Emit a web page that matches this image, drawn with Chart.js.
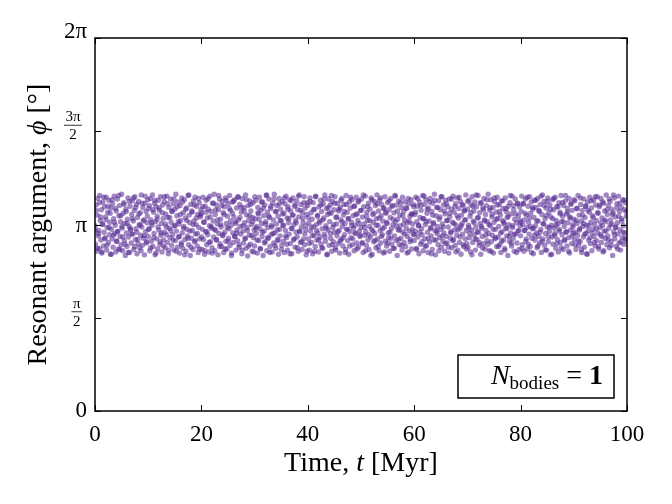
<!DOCTYPE html>
<html>
<head>
<meta charset="utf-8">
<script src="https://cdn.jsdelivr.net/npm/chart.js@4"></script>
<style>html,body{margin:0;padding:0;background:#fff}</style>
</head>
<body>
<canvas id="graphe" width="672" height="504" style="width:672px;height:504px"></canvas>
<script>
"use strict";

// tick positions and labels
const xTicks = [0, 20, 40, 60, 80, 100];
const yTickVals = [0, Math.PI / 2, Math.PI, 3 * Math.PI / 2, 2 * Math.PI];
const yTickLabels = [["0"], ["π", "2"], ["π"], ["3π", "2"], ["2π"]];
const nBodies = 1;

// resonant argument phi (rad) vs time (Myr), one array per 10 Myr
const seg0 = [[0.0,3.12],[0.1,2.81],[0.2,3.47],[0.3,2.69],[0.4,3.30],[0.5,3.58],[0.6,2.95],[0.7,3.04],[0.8,2.74],[0.9,3.63],
[1.0,3.21],[1.1,2.88],[1.2,3.39],[1.3,2.66],[1.4,3.15],[1.5,3.52],[1.6,2.78],[1.7,3.01],[1.8,3.44],[1.9,2.92],
[2.0,3.27],[2.1,3.60],[2.2,2.71],[2.3,3.09],[2.4,3.35],[2.5,2.84],[2.6,3.55],[2.7,2.97],[2.8,3.18],[2.9,2.64],
[3.0,3.42],[3.1,3.06],[3.2,2.90],[3.3,3.49],[3.4,2.76],[3.5,3.24],[3.6,3.62],[3.7,2.99],[3.8,3.13],[3.9,2.68],
[4.0,3.37],[4.1,2.86],[4.2,3.57],[4.3,3.03],[4.4,2.73],[4.5,3.29],[4.6,3.46],[4.7,2.94],[4.8,3.19],[4.9,2.80],
[5.0,3.65],[5.1,3.08],[5.2,2.70],[5.3,3.33],[5.4,3.51],[5.5,2.87],[5.6,3.16],[5.7,2.62],[5.8,3.40],[5.9,3.00],
[6.0,2.77],[6.1,3.23],[6.2,3.59],[6.3,2.93],[6.4,3.11],[6.5,2.67],[6.6,3.45],[6.7,3.05],[6.8,2.83],[6.9,3.31],
[7.0,3.54],[7.1,2.98],[7.2,3.20],[7.3,2.72],[7.4,3.38],[7.5,3.61],[7.6,2.89],[7.7,3.07],[7.8,3.48],[7.9,2.65],
[8.0,3.26],[8.1,2.82],[8.2,3.53],[8.3,3.14],[8.4,2.75],[8.5,3.34],[8.6,2.96],[8.7,3.64],[8.8,3.10],[8.9,2.79],
[9.0,3.43],[9.1,2.91],[9.2,3.22],[9.3,2.63],[9.4,3.50],[9.5,3.02],[9.6,3.36],[9.7,2.85],[9.8,3.17],[9.9,3.56]];
const seg1 = [[10.0,2.94],[10.1,3.41],[10.2,3.07],[10.3,2.70],[10.4,3.58],[10.5,3.22],[10.6,2.86],[10.7,3.13],[10.8,3.64],[10.9,2.77],
[11.0,3.35],[11.1,2.99],[11.2,3.50],[11.3,2.63],[11.4,3.19],[11.5,3.44],[11.6,2.90],[11.7,3.28],[11.8,2.73],[11.9,3.55],
[12.0,3.05],[12.1,3.38],[12.2,2.81],[12.3,3.61],[12.4,2.96],[12.5,3.16],[12.6,2.68],[12.7,3.47],[12.8,3.24],[12.9,2.88],
[13.0,3.53],[13.1,3.01],[13.2,2.75],[13.3,3.32],[13.4,3.10],[13.5,3.62],[13.6,2.84],[13.7,3.26],[13.8,2.65],[13.9,3.43],
[14.0,3.08],[14.1,2.92],[14.2,3.57],[14.3,3.18],[14.4,2.79],[14.5,3.36],[14.6,2.97],[14.7,3.49],[14.8,2.71],[14.9,3.12],
[15.0,3.40],[15.1,2.87],[15.2,3.65],[15.3,3.03],[15.4,3.29],[15.5,2.76],[15.6,3.52],[15.7,2.93],[15.8,3.15],[15.9,2.66],
[16.0,3.46],[16.1,3.21],[16.2,2.83],[16.3,3.59],[16.4,3.00],[16.5,2.74],[16.6,3.34],[16.7,3.11],[16.8,3.56],[16.9,2.89],
[17.0,3.25],[17.1,2.69],[17.2,3.42],[17.3,3.06],[17.4,2.95],[17.5,3.63],[17.6,2.80],[17.7,3.30],[17.8,3.17],[17.9,2.62],
[18.0,3.48],[18.1,2.91],[18.2,3.37],[18.3,3.04],[18.4,2.72],[18.5,3.54],[18.6,3.20],[18.7,2.85],[18.8,3.60],[18.9,2.98],
[19.0,3.14],[19.1,3.45],[19.2,2.78],[19.3,3.31],[19.4,2.67],[19.5,3.09],[19.6,3.51],[19.7,2.90],[19.8,3.27],[19.9,3.39]];
const seg2 = [[20.0,3.33],[20.1,2.72],[20.2,3.06],[20.3,3.60],[20.4,2.89],[20.5,3.18],[20.6,2.64],[20.7,3.45],[20.8,3.02],[20.9,3.55],
[21.0,2.80],[21.1,3.25],[21.2,2.97],[21.3,3.40],[21.4,2.68],[21.5,3.12],[21.6,3.62],[21.7,2.85],[21.8,3.36],[21.9,3.08],
[22.0,2.75],[22.1,3.50],[22.2,3.20],[22.3,2.93],[22.4,3.65],[22.5,2.70],[22.6,3.31],[22.7,3.04],[22.8,2.88],[22.9,3.47],
[23.0,3.15],[23.1,2.63],[23.2,3.39],[23.3,2.99],[23.4,3.57],[23.5,2.82],[23.6,3.23],[23.7,3.10],[23.8,2.77],[23.9,3.53],
[24.0,2.95],[24.1,3.34],[24.2,2.67],[24.3,3.44],[24.4,3.01],[24.5,3.59],[24.6,2.86],[24.7,3.16],[24.8,2.73],[24.9,3.28],
[25.0,3.49],[25.1,2.91],[25.2,3.07],[25.3,3.63],[25.4,2.79],[25.5,3.38],[25.6,3.13],[25.7,2.66],[25.8,3.52],[25.9,3.00],
[26.0,2.84],[26.1,3.27],[26.2,3.56],[26.3,2.94],[26.4,3.19],[26.5,2.71],[26.6,3.42],[26.7,3.05],[26.8,2.87],[26.9,3.61],
[27.0,3.22],[27.1,2.76],[27.2,3.48],[27.3,3.11],[27.4,2.98],[27.5,3.35],[27.6,2.65],[27.7,3.58],[27.8,3.03],[27.9,2.83],
[28.0,3.43],[28.1,3.17],[28.2,2.90],[28.3,3.64],[28.4,2.74],[28.5,3.30],[28.6,3.09],[28.7,2.61],[28.8,3.46],[28.9,3.21],
[29.0,2.96],[29.1,3.54],[29.2,2.81],[29.3,3.37],[29.4,3.14],[29.5,2.69],[29.6,3.26],[29.7,3.51],[29.8,2.92],[29.9,3.05]];
const seg3 = [[30.0,2.78],[30.1,3.24],[30.2,3.55],[30.3,2.99],[30.4,3.11],[30.5,2.66],[30.6,3.43],[30.7,3.32],[30.8,2.87],[30.9,3.60],
[31.0,3.07],[31.1,2.73],[31.2,3.38],[31.3,3.16],[31.4,2.94],[31.5,3.52],[31.6,2.62],[31.7,3.29],[31.8,3.03],[31.9,3.47],
[32.0,2.85],[32.1,3.19],[32.2,3.63],[32.3,2.70],[32.4,3.35],[32.5,3.09],[32.6,2.91],[32.7,3.57],[32.8,3.26],[32.9,2.77],
[33.0,3.41],[33.1,2.97],[33.2,3.13],[33.3,2.68],[33.4,3.50],[33.5,3.22],[33.6,2.83],[33.7,3.65],[33.8,3.00],[33.9,3.36],
[34.0,2.74],[34.1,3.15],[34.2,3.46],[34.3,2.89],[34.4,3.28],[34.5,2.64],[34.6,3.58],[34.7,3.06],[34.8,2.95],[34.9,3.40],
[35.0,3.20],[35.1,2.79],[35.2,3.53],[35.3,3.12],[35.4,2.86],[35.5,3.33],[35.6,2.67],[35.7,3.49],[35.8,3.04],[35.9,3.62],
[36.0,2.92],[36.1,3.25],[36.2,2.71],[36.3,3.44],[36.4,3.17],[36.5,2.98],[36.6,3.56],[36.7,2.82],[36.8,3.37],[36.9,3.08],
[37.0,2.65],[37.1,3.30],[37.2,3.59],[37.3,2.88],[37.4,3.14],[37.5,3.45],[37.6,2.76],[37.7,3.21],[37.8,3.01],[37.9,3.54],
[38.0,2.93],[38.1,3.39],[38.2,2.69],[38.3,3.27],[38.4,3.64],[38.5,3.02],[38.6,2.84],[38.7,3.48],[38.8,3.10],[38.9,2.72],
[39.0,3.34],[39.1,3.18],[39.2,2.90],[39.3,3.61],[39.4,2.80],[39.5,3.42],[39.6,3.05],[39.7,2.63],[39.8,3.31],[39.9,3.51]];
const seg4 = [[40.0,3.46],[40.1,2.90],[40.2,3.17],[40.3,2.71],[40.4,3.59],[40.5,3.03],[40.6,3.34],[40.7,2.84],[40.8,3.23],[40.9,2.65],
[41.0,3.51],[41.1,3.10],[41.2,2.96],[41.3,3.40],[41.4,2.77],[41.5,3.62],[41.6,3.14],[41.7,2.88],[41.8,3.28],[41.9,3.00],
[42.0,2.68],[42.1,3.44],[42.2,3.20],[42.3,2.93],[42.4,3.55],[42.5,2.81],[42.6,3.36],[42.7,3.07],[42.8,2.74],[42.9,3.49],
[43.0,3.25],[43.1,2.98],[43.2,3.64],[43.3,2.86],[43.4,3.12],[43.5,3.41],[43.6,2.63],[43.7,3.31],[43.8,3.05],[43.9,3.57],
[44.0,2.79],[44.1,3.19],[44.2,3.47],[44.3,2.91],[44.4,3.33],[44.5,2.69],[44.6,3.53],[44.7,3.09],[44.8,2.85],[44.9,3.39],
[45.0,3.01],[45.1,3.61],[45.2,2.75],[45.3,3.26],[45.4,3.15],[45.5,2.95],[45.6,3.50],[45.7,2.82],[45.8,3.37],[45.9,3.04],
[46.0,2.66],[46.1,3.43],[46.2,3.22],[46.3,2.89],[46.4,3.58],[46.5,3.11],[46.6,2.78],[46.7,3.30],[46.8,3.48],[46.9,2.97],
[47.0,3.16],[47.1,2.72],[47.2,3.63],[47.3,3.06],[47.4,3.35],[47.5,2.87],[47.6,3.24],[47.7,2.64],[47.8,3.52],[47.9,3.02],
[48.0,3.42],[48.1,2.92],[48.2,3.18],[48.3,3.56],[48.4,2.80],[48.5,3.29],[48.6,3.08],[48.7,2.70],[48.8,3.45],[48.9,3.13],
[49.0,2.99],[49.1,3.60],[49.2,2.83],[49.3,3.32],[49.4,3.21],[49.5,2.76],[49.6,3.54],[49.7,3.03],[49.8,2.94],[49.9,3.38]];
const seg5 = [[50.0,3.09],[50.1,3.57],[50.2,2.82],[50.3,3.27],[50.4,2.67],[50.5,3.44],[50.6,3.15],[50.7,2.96],[50.8,3.62],[50.9,3.02],
[51.0,2.79],[51.1,3.35],[51.2,3.21],[51.3,2.88],[51.4,3.50],[51.5,2.72],[51.6,3.11],[51.7,3.40],[51.8,2.93],[51.9,3.59],
[52.0,3.06],[52.1,2.64],[52.2,3.31],[52.3,3.18],[52.4,2.85],[52.5,3.53],[52.6,2.99],[52.7,3.46],[52.8,2.75],[52.9,3.24],
[53.0,3.64],[53.1,2.90],[53.2,3.13],[53.3,3.37],[53.4,2.70],[53.5,3.55],[53.6,3.04],[53.7,2.83],[53.8,3.29],[53.9,3.48],
[54.0,2.97],[54.1,3.20],[54.2,2.66],[54.3,3.42],[54.4,3.10],[54.5,3.61],[54.6,2.86],[54.7,3.33],[54.8,2.78],[54.9,3.16],
[55.0,3.51],[55.1,3.00],[55.2,2.92],[55.3,3.39],[55.4,2.69],[55.5,3.26],[55.6,3.58],[55.7,3.07],[55.8,2.81],[55.9,3.45],
[56.0,3.14],[56.1,2.74],[56.2,3.34],[56.3,2.95],[56.4,3.63],[56.5,3.19],[56.6,2.87],[56.7,3.47],[56.8,2.62],[56.9,3.23],
[57.0,3.05],[57.1,3.54],[57.2,2.80],[57.3,3.30],[57.4,3.12],[57.5,2.91],[57.6,3.43],[57.7,2.71],[57.8,3.60],[57.9,3.01],
[58.0,3.36],[58.1,2.84],[58.2,3.22],[58.3,3.52],[58.4,2.77],[58.5,3.08],[58.6,3.41],[58.7,2.94],[58.8,3.17],[58.9,2.68],
[59.0,3.49],[59.1,3.03],[59.2,3.28],[59.3,2.89],[59.4,3.56],[59.5,2.73],[59.6,3.32],[59.7,3.15],[59.8,2.98],[59.9,3.44]];
const seg6 = [[60.0,2.87],[60.1,3.31],[60.2,3.03],[60.3,3.60],[60.4,2.74],[60.5,3.19],[60.6,3.45],[60.7,2.93],[60.8,3.12],[60.9,2.65],
[61.0,3.52],[61.1,3.26],[61.2,2.81],[61.3,3.38],[61.4,3.07],[61.5,2.97],[61.6,3.63],[61.7,2.70],[61.8,3.24],[61.9,3.48],
[62.0,2.90],[62.1,3.14],[62.2,3.56],[62.3,2.78],[62.4,3.33],[62.5,3.01],[62.6,2.67],[62.7,3.42],[62.8,3.20],[62.9,2.85],
[63.0,3.58],[63.1,3.09],[63.2,2.95],[63.3,3.36],[63.4,2.72],[63.5,3.50],[63.6,3.17],[63.7,2.88],[63.8,3.65],[63.9,3.04],
[64.0,2.63],[64.1,3.29],[64.2,3.43],[64.3,2.99],[64.4,3.11],[64.5,2.80],[64.6,3.54],[64.7,3.23],[64.8,2.92],[64.9,3.39],
[65.0,3.06],[65.1,2.76],[65.2,3.61],[65.3,3.15],[65.4,2.86],[65.5,3.47],[65.6,3.00],[65.7,2.69],[65.8,3.32],[65.9,3.55],
[66.0,2.94],[66.1,3.21],[66.2,2.83],[66.3,3.44],[66.4,3.10],[66.5,2.66],[66.6,3.57],[66.7,3.27],[66.8,2.91],[66.9,3.02],
[67.0,3.40],[67.1,2.75],[67.2,3.18],[67.3,3.62],[67.4,2.89],[67.5,3.35],[67.6,3.05],[67.7,2.79],[67.8,3.49],[67.9,3.13],
[68.0,2.96],[68.1,3.59],[68.2,2.71],[68.3,3.25],[68.4,3.41],[68.5,2.84],[68.6,3.08],[68.7,3.53],[68.8,2.64],[68.9,3.30],
[69.0,3.16],[69.1,2.98],[69.2,3.46],[69.3,2.77],[69.4,3.37],[69.5,3.22],[69.6,2.90],[69.7,3.64],[69.8,3.04],[69.9,2.82]];
const seg7 = [[70.0,3.40],[70.1,2.76],[70.2,3.13],[70.3,3.55],[70.4,2.92],[70.5,3.28],[70.6,2.68],[70.7,3.47],[70.8,3.05],[70.9,3.61],
[71.0,2.84],[71.1,3.20],[71.2,3.37],[71.3,2.97],[71.4,3.52],[71.5,2.71],[71.6,3.10],[71.7,3.44],[71.8,2.89],[71.9,3.25],
[72.0,3.63],[72.1,3.01],[72.2,2.79],[72.3,3.34],[72.4,3.16],[72.5,2.64],[72.6,3.50],[72.7,3.08],[72.8,2.94],[72.9,3.42],
[73.0,2.82],[73.1,3.58],[73.2,3.22],[73.3,2.73],[73.4,3.31],[73.5,3.04],[73.6,3.46],[73.7,2.87],[73.8,3.19],[73.9,3.65],
[74.0,2.99],[74.1,2.70],[74.2,3.38],[74.3,3.12],[74.4,3.56],[74.5,2.85],[74.6,3.27],[74.7,2.96],[74.8,3.43],[74.9,2.66],
[75.0,3.18],[75.1,3.53],[75.2,2.90],[75.3,3.06],[75.4,3.35],[75.5,2.77],[75.6,3.60],[75.7,3.24],[75.8,2.93],[75.9,3.11],
[76.0,3.48],[76.1,2.81],[76.2,3.30],[76.3,2.67],[76.4,3.54],[76.5,3.02],[76.6,3.21],[76.7,3.41],[76.8,2.88],[76.9,3.15],
[77.0,2.74],[77.1,3.59],[77.2,3.07],[77.3,3.36],[77.4,2.95],[77.5,3.26],[77.6,2.62],[77.7,3.45],[77.8,3.14],[77.9,2.86],
[78.0,3.51],[78.1,3.00],[78.2,3.32],[78.3,2.78],[78.4,3.62],[78.5,3.09],[78.6,2.91],[78.7,3.39],[78.8,2.69],[78.9,3.23],
[79.0,3.57],[79.1,2.98],[79.2,3.17],[79.3,2.83],[79.4,3.49],[79.5,3.03],[79.6,3.29],[79.7,2.72],[79.8,3.44],[79.9,3.12]];
const seg8 = [[80.0,2.95],[80.1,3.36],[80.2,3.62],[80.3,2.80],[80.4,3.14],[80.5,3.49],[80.6,2.69],[80.7,3.22],[80.8,3.04],[80.9,3.57],
[81.0,2.86],[81.1,3.30],[81.2,3.09],[81.3,2.73],[81.4,3.45],[81.5,3.18],[81.6,2.98],[81.7,3.61],[81.8,2.77],[81.9,3.33],
[82.0,3.52],[82.1,2.91],[82.2,3.07],[82.3,3.40],[82.4,2.65],[82.5,3.26],[82.6,3.55],[82.7,2.88],[82.8,3.12],[82.9,3.43],
[83.0,3.00],[83.1,2.75],[83.2,3.58],[83.3,3.20],[83.4,2.94],[83.5,3.37],[83.6,2.83],[83.7,3.48],[83.8,3.06],[83.9,2.67],
[84.0,3.31],[84.1,3.64],[84.2,2.90],[84.3,3.16],[84.4,3.53],[84.5,2.79],[84.6,3.24],[84.7,2.99],[84.8,3.42],[84.9,2.71],
[85.0,3.10],[85.1,3.59],[85.2,2.85],[85.3,3.34],[85.4,3.02],[85.5,3.47],[85.6,2.63],[85.7,3.27],[85.8,3.13],[85.9,2.93],
[86.0,3.56],[86.1,2.81],[86.2,3.39],[86.3,3.08],[86.4,2.96],[86.5,3.60],[86.6,2.74],[86.7,3.21],[86.8,3.44],[86.9,2.89],
[87.0,3.15],[87.1,2.68],[87.2,3.51],[87.3,3.03],[87.4,3.35],[87.5,2.84],[87.6,3.63],[87.7,3.19],[87.8,2.97],[87.9,3.28],
[88.0,2.72],[88.1,3.46],[88.2,3.11],[88.3,2.87],[88.4,3.54],[88.5,3.01],[88.6,3.32],[88.7,2.78],[88.8,3.41],[88.9,3.17],
[89.0,2.92],[89.1,3.58],[89.2,2.66],[89.3,3.25],[89.4,3.05],[89.5,3.50],[89.6,2.82],[89.7,3.38],[89.8,3.14],[89.9,2.99]];
const seg9 = [[90.0,3.23],[90.1,2.89],[90.2,3.54],[90.3,3.01],[90.4,2.72],[90.5,3.41],[90.6,3.16],[90.7,2.96],[90.8,3.63],[90.9,2.79],
[91.0,3.30],[91.1,3.07],[91.2,2.85],[91.3,3.48],[91.4,3.20],[91.5,2.67],[91.6,3.38],[91.7,3.11],[91.8,2.93],[91.9,3.57],
[92.0,2.76],[92.1,3.26],[92.2,3.45],[92.3,2.99],[92.4,3.13],[92.5,2.64],[92.6,3.52],[92.7,3.04],[92.8,2.88],[92.9,3.35],
[93.0,3.60],[93.1,2.82],[93.2,3.18],[93.3,3.42],[93.4,2.70],[93.5,3.29],[93.6,3.06],[93.7,3.55],[93.8,2.94],[93.9,3.14],
[94.0,2.78],[94.1,3.47],[94.2,3.21],[94.3,2.87],[94.4,3.61],[94.5,3.00],[94.6,3.33],[94.7,2.73],[94.8,3.44],[94.9,3.09],
[95.0,2.97],[95.1,3.58],[95.2,2.84],[95.3,3.25],[95.4,3.12],[95.5,2.68],[95.6,3.50],[95.7,3.03],[95.8,3.37],[95.9,2.91],
[96.0,3.19],[96.1,3.64],[96.2,2.80],[96.3,3.31],[96.4,2.95],[96.5,3.46],[96.6,3.08],[96.7,2.75],[96.8,3.53],[96.9,3.22],
[97.0,2.86],[97.1,3.40],[97.2,3.15],[97.3,2.62],[97.4,3.34],[97.5,3.02],[97.6,3.59],[97.7,2.90],[97.8,3.27],[97.9,3.10],
[98.0,2.77],[98.1,3.49],[98.2,3.17],[98.3,2.98],[98.4,3.62],[98.5,2.83],[98.6,3.36],[98.7,3.05],[98.8,2.71],[98.9,3.43],
[99.0,3.24],[99.1,2.92],[99.2,3.56],[99.3,3.12],[99.4,2.81],[99.5,3.39],[99.6,3.00],[99.7,3.51],[99.8,2.88],[99.9,3.28]];

// in-between outputs, one array per 20 Myr
const mid0 = [[0.05,3.05],[0.25,3.38],[0.45,2.74],[0.65,2.99],[0.85,3.51],[1.05,3.27],[1.25,2.68],[1.45,3.14],[1.65,3.60],[1.85,2.90],
[2.05,3.22],[2.25,2.79],[2.45,3.45],[2.65,3.09],[2.85,3.33],[3.05,2.64],[3.25,3.56],[3.45,2.96],[3.65,3.18],[3.85,3.41],
[4.05,2.86],[4.25,3.02],[4.45,3.63],[4.65,2.72],[4.85,3.29],[5.05,3.11],[5.25,2.93],[5.45,3.48],[5.65,2.81],[5.85,3.36],
[6.05,3.16],[6.25,2.67],[6.45,3.53],[6.65,3.07],[6.85,2.98],[7.05,3.24],[7.25,3.59],[7.45,2.77],[7.65,3.43],[7.85,3.01],
[8.05,2.89],[8.25,3.32],[8.45,3.13],[8.65,2.70],[8.85,3.50],[9.05,3.20],[9.25,2.95],[9.45,3.62],[9.65,2.83],[9.85,3.28],
[10.05,3.06],[10.25,3.46],[10.45,2.75],[10.65,3.17],[10.85,3.39],[11.05,2.92],[11.25,3.55],[11.45,2.66],[11.65,3.23],[11.85,3.10],
[12.05,3.42],[12.25,2.85],[12.45,3.00],[12.65,3.34],[12.85,2.78],[13.05,3.61],[13.25,3.15],[13.45,2.97],[13.65,3.49],[13.85,2.71],
[14.05,3.26],[14.25,3.04],[14.45,3.37],[14.65,2.88],[14.85,3.57],[15.05,3.12],[15.25,2.69],[15.45,3.44],[15.65,3.19],[15.85,2.94],
[16.05,3.31],[16.25,2.80],[16.45,3.52],[16.65,3.08],[16.85,2.63],[17.05,3.40],[17.25,3.21],[17.45,2.91],[17.65,3.64],[17.85,3.03],
[18.05,2.76],[18.25,3.35],[18.45,3.14],[18.65,3.47],[18.85,2.87],[19.05,3.25],[19.25,2.99],[19.45,3.58],[19.65,2.73],[19.85,3.30]];
const mid1 = [[20.05,2.93],[20.25,3.44],[20.45,3.18],[20.65,2.70],[20.85,3.35],[21.05,3.02],[21.25,3.58],[21.45,2.84],[21.65,3.27],[21.85,3.11],
[22.05,2.66],[22.25,3.50],[22.45,3.06],[22.65,3.39],[22.85,2.89],[23.05,3.22],[23.25,3.63],[23.45,2.77],[23.65,3.14],[23.85,3.46],
[24.05,2.97],[24.25,3.31],[24.45,2.73],[24.65,3.55],[24.85,3.09],[25.05,2.86],[25.25,3.41],[25.45,3.20],[25.65,2.62],[25.85,3.33],
[26.05,3.53],[26.25,2.94],[26.45,3.16],[26.65,3.00],[26.85,3.60],[27.05,2.80],[27.25,3.26],[27.45,3.43],[27.65,2.71],[27.85,3.12],
[28.05,3.37],[28.25,2.91],[28.45,3.56],[28.65,3.04],[28.85,2.78],[29.05,3.29],[29.25,3.48],[29.45,2.96],[29.65,3.19],[29.85,2.68],
[30.05,3.61],[30.25,3.08],[30.45,2.88],[30.65,3.34],[30.85,3.23],[31.05,2.74],[31.25,3.52],[31.45,3.01],[31.65,3.42],[31.85,2.83],
[32.05,3.15],[32.25,3.64],[32.45,2.92],[32.65,3.28],[32.85,2.67],[33.05,3.45],[33.25,3.10],[33.45,2.99],[33.65,3.57],[33.85,2.79],
[34.05,3.36],[34.25,3.05],[34.45,2.87],[34.65,3.49],[34.85,3.21],[35.05,2.72],[35.25,3.32],[35.45,3.13],[35.65,3.59],[35.85,2.95],
[36.05,2.81],[36.25,3.40],[36.45,3.24],[36.65,2.65],[36.85,3.54],[37.05,3.07],[37.25,3.30],[37.45,2.90],[37.65,3.47],[37.85,3.17],
[38.05,2.75],[38.25,3.62],[38.45,3.03],[38.65,3.38],[38.85,2.85],[39.05,3.25],[39.25,3.51],[39.45,2.98],[39.65,3.12],[39.85,2.69]];
const mid2 = [[40.05,3.26],[40.25,2.82],[40.45,3.53],[40.65,3.10],[40.85,2.95],[41.05,3.39],[41.25,2.69],[41.45,3.61],[41.65,3.04],[41.85,3.30],
[42.05,2.88],[42.25,3.17],[42.45,3.47],[42.65,2.75],[42.85,3.22],[43.05,3.57],[43.25,2.93],[43.45,3.08],[43.65,2.64],[43.85,3.43],
[44.05,3.34],[44.25,2.99],[44.45,3.63],[44.65,2.80],[44.85,3.14],[45.05,3.50],[45.25,2.71],[45.45,3.27],[45.65,3.02],[45.85,3.40],
[46.05,2.86],[46.25,3.55],[46.45,3.19],[46.65,2.92],[46.85,3.36],[47.05,2.67],[47.25,3.48],[47.45,3.06],[47.65,3.24],[47.85,2.78],
[48.05,3.60],[48.25,3.12],[48.45,2.90],[48.65,3.45],[48.85,3.00],[49.05,3.31],[49.25,2.73],[49.45,3.52],[49.65,3.16],[49.85,2.96],
[50.05,3.38],[50.25,2.84],[50.45,3.64],[50.65,3.09],[50.85,2.70],[51.05,3.28],[51.25,3.44],[51.45,2.97],[51.65,3.21],[51.85,2.62],
[52.05,3.56],[52.25,3.03],[52.45,3.33],[52.65,2.87],[52.85,3.13],[53.05,3.49],[53.25,2.77],[53.45,3.25],[53.65,3.59],[53.85,2.94],
[54.05,3.07],[54.25,3.41],[54.45,2.68],[54.65,3.35],[54.85,3.18],[55.05,2.83],[55.25,3.54],[55.45,3.01],[55.65,2.91],[55.85,3.46],
[56.05,3.23],[56.25,2.74],[56.45,3.62],[56.65,3.11],[56.85,3.37],[57.05,2.89],[57.25,3.05],[57.45,3.51],[57.65,2.79],[57.85,3.29],
[58.05,3.15],[58.25,2.98],[58.45,3.42],[58.65,2.66],[58.85,3.58],[59.05,3.20],[59.25,2.85],[59.45,3.32],[59.65,3.06],[59.85,3.48]];
const mid3 = [[60.05,2.97],[60.25,3.35],[60.45,2.72],[60.65,3.58],[60.85,3.13],[61.05,3.01],[61.25,3.46],[61.45,2.85],[61.65,3.24],[61.85,3.62],
[62.05,2.78],[62.25,3.19],[62.45,3.40],[62.65,2.91],[62.85,3.52],[63.05,3.07],[63.25,2.65],[63.45,3.30],[63.65,3.15],[63.85,3.55],
[64.05,2.88],[64.25,3.03],[64.45,3.43],[64.65,2.70],[64.85,3.27],[65.05,3.61],[65.25,2.95],[65.45,3.10],[65.65,3.37],[65.85,2.82],
[66.05,3.49],[66.25,3.21],[66.45,2.76],[66.65,3.33],[66.85,3.00],[67.05,3.57],[67.25,2.87],[67.45,3.16],[67.65,3.44],[67.85,2.68],
[68.05,3.29],[68.25,3.05],[68.45,3.60],[68.65,2.93],[68.85,3.12],[69.05,3.48],[69.25,2.80],[69.45,3.38],[69.65,3.22],[69.85,2.73],
[70.05,3.53],[70.25,3.09],[70.45,2.99],[70.65,3.34],[70.85,2.63],[71.05,3.45],[71.25,3.17],[71.45,2.90],[71.65,3.64],[71.85,3.02],
[72.05,3.26],[72.25,2.84],[72.45,3.51],[72.65,3.11],[72.85,2.75],[73.05,3.39],[73.25,3.20],[73.45,2.96],[73.65,3.56],[73.85,2.81],
[74.05,3.14],[74.25,3.42],[74.45,2.69],[74.65,3.31],[74.85,3.06],[75.05,3.59],[75.25,2.92],[75.45,3.23],[75.65,3.47],[75.85,2.77],
[76.05,3.36],[76.25,3.00],[76.45,2.86],[76.65,3.54],[76.85,3.18],[77.05,2.71],[77.25,3.41],[77.45,3.08],[77.65,3.28],[77.85,2.94],
[78.05,3.63],[78.25,2.83],[78.45,3.12],[78.65,3.46],[78.85,2.98],[79.05,3.32],[79.25,2.67],[79.45,3.50],[79.65,3.04],[79.85,3.21]];
const mid4 = [[80.05,3.18],[80.25,2.74],[80.45,3.49],[80.65,3.04],[80.85,3.33],[81.05,2.90],[81.25,3.60],[81.45,2.81],[81.65,3.25],[81.85,3.11],
[82.05,2.67],[82.25,3.43],[82.45,3.08],[82.65,2.96],[82.85,3.55],[83.05,3.20],[83.25,2.78],[83.45,3.37],[83.65,3.01],[83.85,3.62],
[84.05,2.86],[84.25,3.15],[84.45,3.46],[84.65,2.71],[84.85,3.29],[85.05,3.53],[85.25,2.93],[85.45,3.09],[85.65,3.40],[85.85,2.64],
[86.05,3.24],[86.25,3.58],[86.45,2.99],[86.65,3.13],[86.85,2.82],[87.05,3.44],[87.25,3.06],[87.45,3.32],[87.65,2.75],[87.85,3.51],
[88.05,3.19],[88.25,2.89],[88.45,3.63],[88.65,3.02],[88.85,3.35],[89.05,2.69],[89.25,3.27],[89.45,3.48],[89.65,2.95],[89.85,3.10],
[90.05,3.56],[90.25,2.80],[90.45,3.21],[90.65,3.41],[90.85,2.87],[91.05,3.05],[91.25,3.59],[91.45,2.72],[91.65,3.30],[91.85,3.16],
[92.05,2.98],[92.25,3.45],[92.45,2.65],[92.65,3.38],[92.85,3.12],[93.05,2.92],[93.25,3.54],[93.45,3.00],[93.65,3.26],[93.85,2.84],
[94.05,3.61],[94.25,3.07],[94.45,3.34],[94.65,2.77],[94.85,3.47],[95.05,3.17],[95.25,2.94],[95.45,3.52],[95.65,2.70],[95.85,3.22],
[96.05,3.03],[96.25,3.39],[96.45,2.88],[96.65,3.57],[96.85,3.14],[97.05,2.79],[97.25,3.31],[97.45,3.64],[97.65,2.97],[97.85,3.09],
[98.05,3.42],[98.25,2.73],[98.45,3.28],[98.65,3.50],[98.85,2.85],[99.05,3.20],[99.25,3.01],[99.45,3.55],[99.65,2.91],[99.85,3.36]];

const serif = '"Liberation Serif", "DejaVu Serif", serif';

const points = [].concat(seg0, seg1, seg2, seg3, seg4, seg5, seg6, seg7, seg8, seg9,
  mid0, mid1, mid2, mid3, mid4)
  .map(p => ({ x: p[0], y: p[1] }));

// writes pieces of text with different fonts one after the other
function ecrireMorceaux(ctx, morceaux, x, y, align) {
  let largeur = 0;
  morceaux.forEach(m => { ctx.font = m[1]; largeur += ctx.measureText(m[0]).width; });
  let cx = x;
  if (align === 'center') cx = x - largeur / 2;
  if (align === 'right') cx = x - largeur;
  ctx.textAlign = 'left';
  morceaux.forEach(m => {
    ctx.font = m[1];
    ctx.fillText(m[0], cx, y + (m[2] || 0));
    cx += ctx.measureText(m[0]).width;
  });
}

const decor = {
  id: 'decor',
  afterDraw(chart) {
    const ctx = chart.ctx;
    const a = chart.chartArea;
    const xs = chart.scales.x;
    const ys = chart.scales.y;
    ctx.save();
    ctx.strokeStyle = '#000';
    ctx.fillStyle = '#000';

    // cadre
    ctx.lineWidth = 1.5;
    ctx.strokeRect(a.left, a.top, a.right - a.left, a.bottom - a.top);

    // ticks vers l'intérieur
    ctx.lineWidth = 1;
    ctx.beginPath();
    xTicks.forEach(v => {
      const px = Math.round(xs.getPixelForValue(v)) + 0.5;
      ctx.moveTo(px, a.bottom); ctx.lineTo(px, a.bottom - 6);
      ctx.moveTo(px, a.top); ctx.lineTo(px, a.top + 6);
    });
    yTickVals.forEach(v => {
      const py = Math.round(ys.getPixelForValue(v)) + 0.5;
      ctx.moveTo(a.left, py); ctx.lineTo(a.left + 6, py);
      ctx.moveTo(a.right, py); ctx.lineTo(a.right - 6, py);
    });
    ctx.stroke();

    // étiquettes x
    ctx.textBaseline = 'alphabetic';
    ctx.textAlign = 'center';
    ctx.font = '23px ' + serif;
    xTicks.forEach(v => ctx.fillText(String(v), xs.getPixelForValue(v), a.bottom + 30));

    // étiquettes y
    yTickVals.forEach((v, i) => {
      const py = ys.getPixelForValue(v);
      const lab = yTickLabels[i];
      if (lab.length === 1) {
        ctx.font = '23px ' + serif;
        ctx.textAlign = 'right';
        const dy = i === 4 ? 0 : (i === 0 ? 6 : 7);
        ctx.fillText(lab[0], a.left - 8, py + dy);
      } else {
        ctx.font = '15px ' + serif;
        const w = Math.max(ctx.measureText(lab[0]).width, ctx.measureText(lab[1]).width) + 3;
        const cx = a.left - 13 - w / 2;
        ctx.textAlign = 'center';
        ctx.fillText(lab[0], cx, py - 10);
        ctx.fillText(lab[1], cx, py + 8);
        ctx.lineWidth = 0.8;
        ctx.beginPath();
        ctx.moveTo(cx - w / 2, py - 6);
        ctx.lineTo(cx + w / 2, py - 6);
        ctx.stroke();
      }
    });

    // titre x
    ecrireMorceaux(ctx, [
      ['Time, ', '28px ' + serif],
      ['t', 'italic 28px ' + serif],
      [' [Myr]', '28px ' + serif]
    ], (a.left + a.right) / 2, 471, 'center');

    // titre y
    ctx.save();
    ctx.translate(46, (a.top + a.bottom) / 2);
    ctx.rotate(-Math.PI / 2);
    ecrireMorceaux(ctx, [
      ['Resonant argument, ', '28px ' + serif],
      ['ϕ', 'italic 28px ' + serif],
      [' [°]', '28px ' + serif]
    ], 0, 0, 'center');
    ctx.restore();

    // boîte de légende
    ctx.fillStyle = '#fff';
    ctx.fillRect(458, 355, 156, 43);
    ctx.lineWidth = 1.5;
    ctx.strokeRect(458, 355, 156, 43);
    ctx.fillStyle = '#000';
    ecrireMorceaux(ctx, [
      ['N', 'italic 28px ' + serif],
      ['bodies', '19px ' + serif, 5],
      [' = ', '28px ' + serif],
      [String(nBodies), 'bold 28px ' + serif]
    ], 603, 384, 'right');

    ctx.restore();
  }
};

const ctx = document.getElementById('graphe').getContext('2d');
let myChart = new Chart(ctx, {
  type: 'scatter',
  data: {
    datasets: [{
      data: points,
      backgroundColor: 'rgba(84, 39, 143, 0.55)',
      borderWidth: 0,
      pointRadius: 2.7,
      pointHoverRadius: 2.7,
      clip: 0
    }]
  },
  options: {
    responsive: false,
    animation: false,
    devicePixelRatio: 1,
    layout: { padding: { left: 95, right: 45, top: 38, bottom: 93 } },
    plugins: { legend: { display: false }, tooltip: { enabled: false } },
    events: [],
    scales: {
      x: { type: 'linear', min: 0, max: 100, display: false },
      y: { type: 'linear', min: 0, max: 2 * Math.PI, display: false }
    }
  },
  plugins: [decor]
});
</script>
</body>
</html>
